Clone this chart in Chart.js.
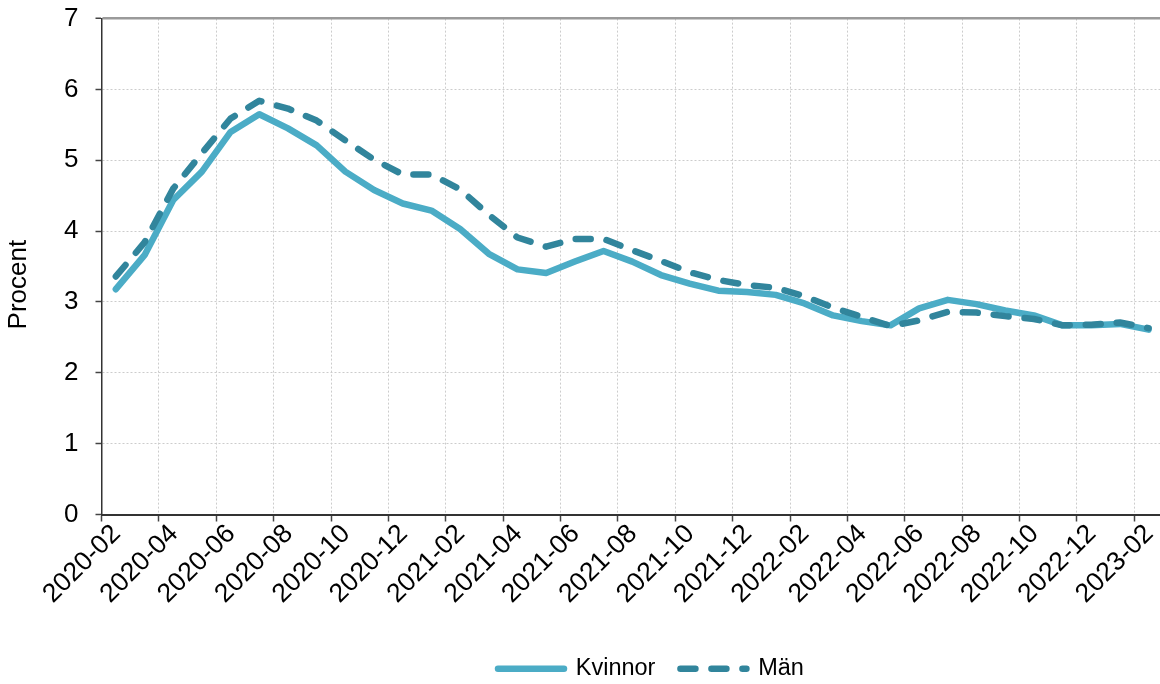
<!DOCTYPE html>
<html><head><meta charset="utf-8">
<script src="https://cdn.jsdelivr.net/npm/chart.js@4/dist/chart.umd.min.js"></script>
<style>html,body{margin:0;padding:0;background:#fff;overflow:hidden}#wrap{width:1163px;height:684px;position:relative}</style>
</head><body><div id="wrap"><canvas id="c" width="1163" height="684"></canvas></div>
<script>
const months = ['2020-02','2020-03','2020-04','2020-05','2020-06','2020-07','2020-08','2020-09','2020-10','2020-11','2020-12',
  '2021-01','2021-02','2021-03','2021-04','2021-05','2021-06','2021-07','2021-08','2021-09','2021-10','2021-11','2021-12',
  '2022-01','2022-02','2022-03','2022-04','2022-05','2022-06','2022-07','2022-08','2022-09','2022-10','2022-11','2022-12',
  '2023-01','2023-02'];
const kvinnor = [3.18,3.66,4.44,4.84,5.40,5.65,5.45,5.21,4.84,4.58,4.39,4.29,4.03,3.68,3.46,3.41,3.57,3.72,3.57,3.38,3.26,3.16,3.14,3.10,2.98,2.81,2.73,2.67,2.91,3.03,2.97,2.88,2.81,2.67,2.67,2.69,2.61];
const man = [3.36,3.84,4.60,5.10,5.59,5.84,5.73,5.56,5.28,5.01,4.80,4.80,4.59,4.23,3.91,3.78,3.89,3.89,3.73,3.58,3.42,3.31,3.24,3.20,3.08,2.92,2.79,2.66,2.74,2.86,2.85,2.80,2.76,2.67,2.68,2.71,2.63];
const tickLabels = ['2020-02','2020-04','2020-06','2020-08','2020-10','2020-12','2021-02','2021-04','2021-06','2021-08','2021-10','2021-12','2022-02','2022-04','2022-06','2022-08','2022-10','2022-12','2023-02'];
const seriesNames = ['Kvinnor','Män'];
const yTitle = 'Procent';

const FONT = "'Liberation Sans', Arial, sans-serif";
const toPts = arr => arr.map((v, i) => ({x: i + 0.5, y: v}));

const legendPlace = {
  id: 'legendPlace',
  afterLayout(chart) {
    const lg = chart.legend;
    lg.left = 473; lg.top = 632;
  }
};

new Chart(document.getElementById('c'), {
  type: 'line',
  data: {
    datasets: [
      {label: seriesNames[0], data: toPts(kvinnor), borderColor: '#4BACC6', backgroundColor: '#4BACC6', borderWidth: 6.5,
       borderCapStyle: 'round', borderJoinStyle: 'round', pointRadius: 0, tension: 0, order: 2},
      {label: seriesNames[1], data: toPts(man), borderColor: '#31859C', backgroundColor: '#31859C', borderWidth: 6.5,
       borderDash: [15, 16], borderCapStyle: 'round', borderJoinStyle: 'round', pointRadius: 0, tension: 0, order: 1}
    ]
  },
  options: {
    responsive: false, animation: false, devicePixelRatio: 1,
    layout: {padding: {top: 18.6, right: 0, bottom: 0, left: 0}},
    scales: {
      x: {
        type: 'linear', min: 0, max: months.length,
        afterBuildTicks: s => { s.ticks = tickLabels.map((_, i) => ({value: i * 2})); },
        afterFit: s => { s.height = 111; s.paddingLeft = 0; s.paddingRight = 0; },
        ticks: {autoSkip: false, maxRotation: 45, minRotation: 45, padding: -3, labelOffset: 15, color: '#000',
          font: {family: FONT, size: 26.5}, callback: v => tickLabels[Math.round(v / 2)]},
        grid: {color: '#cccccc', lineWidth: 1, tickColor: '#444', tickLength: 7, tickWidth: 1.5, tickBorderDash: []},
        border: {color: '#333', width: 2, dash: [2, 2]}
      },
      y: {
        min: 0, max: 7,
        afterFit: s => { s.width = 101.5; s.paddingTop = 0; s.paddingBottom = 0; },
        ticks: {stepSize: 1, padding: 17, color: '#000', font: {family: FONT, size: 26}},
        title: {display: true, text: yTitle + '     ', color: '#000', font: {family: FONT, size: 26}, padding: {top: 3, bottom: 0}},
        grid: {
          color: c => (c.tick && c.tick.value === 7) ? '#9a9a9a' : '#cccccc',
          lineWidth: c => (c.tick && c.tick.value === 7) ? 2.5 : 1,
          tickColor: '#444', tickLength: 6, tickWidth: 1.5, tickBorderDash: []
        },
        border: {color: '#333', width: 1.5, dash: c => (c.tick && c.tick.value === 7) ? [] : [2, 2]}
      }
    },
    plugins: {
      tooltip: {enabled: false},
      legend: {
        position: 'bottom', align: 'start',
        labels: {usePointStyle: true, pointStyle: 'line', pointStyleWidth: 66, padding: 25, color: '#000',
          font: {family: FONT, size: 23.5}, sort: (a, b) => a.datasetIndex - b.datasetIndex,
          generateLabels: chart => {
            const items = Chart.defaults.plugins.legend.labels.generateLabels(chart);
            items.forEach(it => {
              const ds = chart.data.datasets[it.datasetIndex];
              it.lineDash = ds.borderDash || [];
              it.lineCap = 'round';
              it.lineWidth = ds.borderWidth;
              it.strokeStyle = ds.borderColor;
              it.pointStyle = 'line';
            });
            return items;
          }}
      }
    }
  },
  plugins: [legendPlace]
});
</script>
</body></html>
